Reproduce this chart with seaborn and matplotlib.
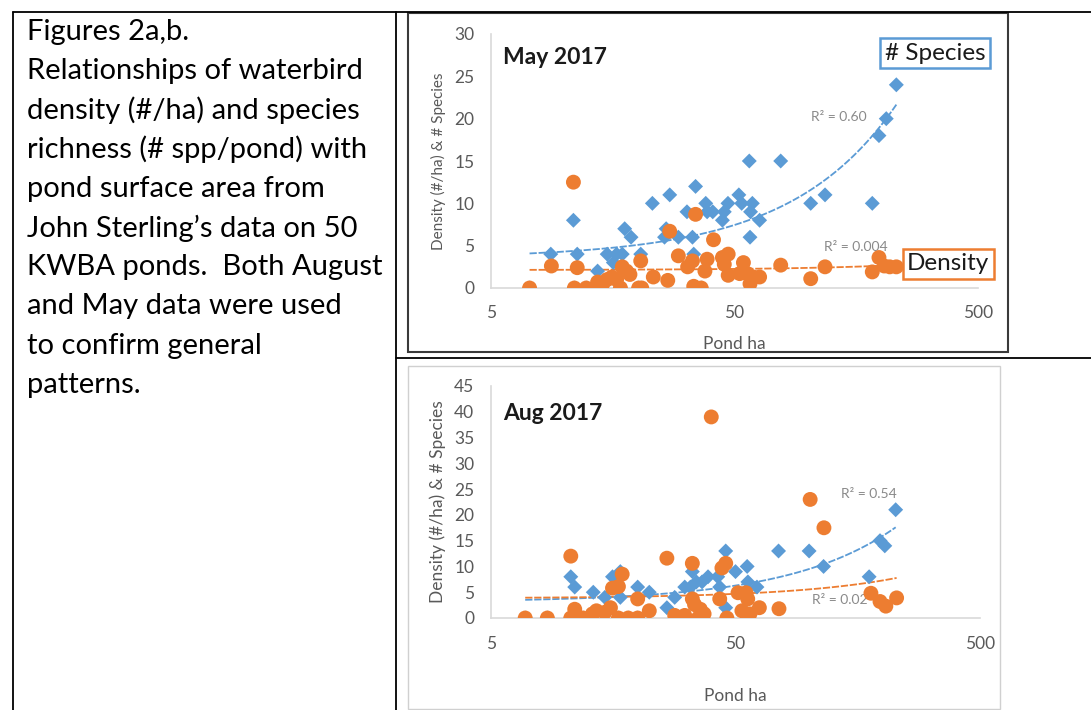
import numpy as np
import pandas as pd
import matplotlib
matplotlib.use("Agg")
import matplotlib.pyplot as plt
import seaborn as sns
from matplotlib.patches import Rectangle
from matplotlib.lines import Line2D
from matplotlib.ticker import NullLocator

# ---------------- data ----------------
caption_lines = [
    "Figures 2a,b.",
    "Relationships of waterbird",
    "density (#/ha) and species",
    "richness (# spp/pond) with",
    "pond surface area from",
    "John Sterling\u2019s data on 50",
    "KWBA ponds.  Both August",
    "and May data were used",
    "to confirm general",
    "patterns.",
]

# species counts (zeros sit hidden under the zero-density circles)
may_species_x = [7.2, 11.0, 12.3, 13.4, 17.0, 20.2, 20.8, 36.5,
                 8.8, 10.9, 11.3, 13.7, 15.0, 15.9, 16.4, 17.3, 17.7, 18.8, 20.6, 23.0, 25.8,
                 26.2, 27.1, 29.4, 31.9, 33.6, 34.0, 34.6, 38.1, 38.6, 40.7, 44.6, 45.4, 47.0,
                 52.1, 53.5, 57.5, 58.2, 57.9, 59.2, 63.4, 77.4, 102.8, 117.7, 184, 196, 210, 231]
may_species_y = [0, 0, 0, 0, 0, 0, 0, 0,
                 4, 8, 4, 2, 4, 3, 4, 4, 7, 6, 4, 10, 6,
                 7, 11, 6, 9, 6, 4, 12, 10, 9, 9, 8, 9, 10,
                 11, 10, 15, 9, 6, 10, 8, 15, 10, 11, 10, 18, 20, 24]

may_density_x = [7.2, 8.85, 10.9, 11.0, 11.3, 12.3, 13.4, 13.7, 14.4, 15.0, 15.7, 16.4, 17.0,
                 17.3, 18.0, 18.6, 20.2, 20.8, 20.6, 23.2, 26.6, 27.1, 29.4, 32.1, 33.6, 34.6,
                 34.0, 36.5, 37.8, 38.6, 41.0, 44.6, 47.1, 47.1, 45.4, 52.5, 54.4, 56.5, 57.9,
                 59.7, 63.4, 77.4, 102.8, 117.7, 184, 196, 206, 217, 231]
may_density_y = [0, 2.6, 12.5, 0, 2.4, 0, 0, 0.7, 0.5, 1.0, 1.3, 1.0, 0,
                 2.5, 2.0, 1.6, 0, 0, 3.2, 1.3, 0.9, 6.7, 3.8, 2.5, 3.2, 8.7,
                 0.2, 0, 2.0, 3.4, 5.7, 3.6, 4.0, 1.5, 2.8, 1.7, 3.0, 1.7, 0.5,
                 1.3, 1.3, 2.7, 1.1, 2.5, 1.9, 3.6, 2.6, 2.5, 2.5]

aug_species_x = [6.9, 8.5, 10.6, 11.9, 16.6, 18.2, 19.9, 35.2, 46.1,
                 10.6, 11.0, 13.1, 14.6, 15.7, 16.9, 16.9, 19.9, 22.2, 26.2, 28.2, 31.0, 32.7,
                 33.3, 34.6, 36.5, 38.6, 42.3, 43.1, 45.6, 45.6, 50.0, 55.8, 56.2, 61.2, 75.0,
                 100, 114.6, 176, 195, 204, 226]
aug_species_y = [0, 0, 0, 0, 0, 0, 0, 0, 0,
                 8, 6, 5, 4, 8, 9, 4, 6, 5, 2, 4, 6, 6,
                 9, 7, 7, 8, 8, 6, 13, 2, 9, 10, 7, 6, 13,
                 13, 10, 8, 15, 14, 21]

aug_density_x = [6.9, 8.5, 10.6, 10.6, 11.0, 11.0, 11.9, 13.0, 13.5, 14.6, 15.4, 15.7, 16.6,
                 17.2, 16.6, 18.2, 19.9, 19.9, 22.2, 26.2, 28.2, 31.0, 33.3, 33.3, 34.0, 35.2,
                 35.9, 37.2, 39.8, 43.1, 44.0, 45.6, 46.1, 51.2, 53.1, 55.2, 56.1, 57.3, 62.6,
                 75.3, 101, 115, 179, 195, 206, 228]
aug_density_y = [0, 0, 12, 0, 1.7, 0.5, 0, 0.8, 1.4, 1.1, 2.0, 5.8, 6.1,
                 8.5, 0, 0, 0, 3.7, 1.4, 11.6, 0.5, 0.5, 10.6, 3.7, 2.6, 0,
                 1.7, 0.8, 39, 3.7, 9.7, 10.6, 0, 4.9, 1.4, 4.9, 3.7, 0.8, 2.0,
                 1.8, 23, 17.5, 4.8, 3.2, 2.3, 3.9]

panel_titles = ["May 2017", "Aug 2017"]
may_r2 = ["R\u00b2 = 0.60", "R\u00b2 = 0.004"]
aug_r2 = ["R\u00b2 = 0.54", "R\u00b2 = 0.02"]
x_ticks = [5, 50, 500]
may_y_ticks = [0, 5, 10, 15, 20, 25, 30]
aug_y_ticks = [0, 5, 10, 15, 20, 25, 30, 35, 40, 45]
legend_labels = ["# Species", "Density"]

BLUE = "#5B9BD5"
ORANGE = "#ED7D31"
GREY_TXT = "#595959"
FONT = "Lato"

sns.set_theme(style="white")
plt.rcParams["font.family"] = [FONT, "DejaVu Sans"]

W, H = 1091, 710
fig = plt.figure(figsize=(W / 100, H / 100), dpi=100)


def fx(px):
    return px / W


def fy(py):
    return 1 - py / H


# ---------- table lines ----------
lk = dict(color="black", lw=1.3, transform=fig.transFigure, clip_on=False)
fig.add_artist(Line2D([fx(13), fx(1091)], [fy(12), fy(12)], **lk))
fig.add_artist(Line2D([fx(13), fx(13)], [fy(12), fy(710)], **lk))
fig.add_artist(Line2D([fx(396), fx(396)], [fy(12), fy(710)], **lk))
fig.add_artist(Line2D([fx(396), fx(1091)], [fy(358), fy(358)], **lk))

# chart frames
fig.add_artist(Rectangle((fx(408), fy(352)), fx(1008) - fx(408), fy(13) - fy(352),
                         transform=fig.transFigure, fill=False, ec="#3a3a3a", lw=1.5))
fig.add_artist(Rectangle((fx(408), fy(709)), fx(1000) - fx(408), fy(366) - fy(709),
                         transform=fig.transFigure, fill=False, ec="#d0d0d0", lw=1.0))

# ---------- caption ----------
for i, line in enumerate(caption_lines):
    fig.text(fx(27), fy(32 + i * 39.2), line, ha="left", va="center",
             fontsize=21, color="black", family=[FONT, "DejaVu Sans"])


def panel(ax, sx, sy, dx, dy, yticks, r2, r2pos, fs, xpad, xlabpad):
    sdf = pd.DataFrame({"x": sx, "y": sy})
    ddf = pd.DataFrame({"x": dx, "y": dy})
    ax.set_xscale("log")
    sns.regplot(data=sdf, x="x", y="y", ax=ax, scatter=False, ci=None,
                line_kws=dict(color=BLUE, lw=1.3, ls=(0, (4, 1))))
    sns.regplot(data=ddf, x="x", y="y", ax=ax, scatter=False, ci=None,
                line_kws=dict(color=ORANGE, lw=1.3, ls=(0, (4, 1))))
    sns.scatterplot(data=sdf, x="x", y="y", ax=ax, marker="D", s=58, color=BLUE,
                    edgecolor="none", zorder=3)
    sns.scatterplot(data=ddf, x="x", y="y", ax=ax, marker="o", s=115, color=ORANGE,
                    edgecolor="none", zorder=4)
    ax.set_xlim(5, 500)
    ax.set_ylim(0, yticks[-1])
    ax.set_xticks(x_ticks)
    ax.set_xticklabels([str(t) for t in x_ticks])
    ax.xaxis.set_minor_locator(NullLocator())
    ax.set_yticks(yticks)
    ax.tick_params(axis="both", length=0, labelsize=12.5, labelcolor=GREY_TXT)
    ax.tick_params(axis="y", pad=12)
    ax.tick_params(axis="x", pad=xpad)
    for s in ["top", "right"]:
        ax.spines[s].set_visible(False)
    for s in ["left", "bottom"]:
        ax.spines[s].set_color("#d9d9d9")
        ax.spines[s].set_linewidth(1.2)
    ax.set_xlabel("Pond ha", fontsize=12.5, color=GREY_TXT, labelpad=xlabpad)
    ax.set_ylabel("Density (#/ha) & # Species", fontsize=fs, color=GREY_TXT, labelpad=6)
    ax.set_facecolor("none")
    for txt, (xx, yy) in zip(r2, r2pos):
        ax.text(xx, yy, txt, fontsize=10, color="#8a8a8a", ha="center", va="center", zorder=2)


ax1 = fig.add_axes([fx(491), fy(288), fx(978) - fx(491), fy(34) - fy(288)])
panel(ax1, may_species_x, may_species_y, may_density_x, may_density_y, may_y_ticks,
      may_r2, [(134, 20.2), (158, 4.8)], 11, 12, 11)

ax2 = fig.add_axes([fx(491), fy(618), fx(980) - fx(491), fy(386) - fy(618)])
panel(ax2, aug_species_x, aug_species_y, aug_density_x, aug_density_y, aug_y_ticks,
      aug_r2, [(176, 24.1), (133, 3.4)], 12.5, 13, 26)

# titles and legend boxes
fig.text(fx(503), fy(58), panel_titles[0], fontsize=16.5, fontweight="bold",
         color="#1a1a1a", ha="left", va="center")
fig.text(fx(503), fy(413), panel_titles[1], fontsize=16.5, fontweight="bold",
         color="#1a1a1a", ha="left", va="center")
fig.text(fx(935), fy(53), legend_labels[0], fontsize=17.5, color="#1a1a1a", ha="center",
         va="center", bbox=dict(boxstyle="square,pad=0.18", fc="white", ec=BLUE, lw=1.8))
fig.text(fx(948), fy(264), legend_labels[1], fontsize=17.5, color="#1a1a1a", ha="center",
         va="center", zorder=6,
         bbox=dict(boxstyle="square,pad=0.18", fc="white", ec=ORANGE, lw=1.8))

fig.savefig("out.png", dpi=100)
